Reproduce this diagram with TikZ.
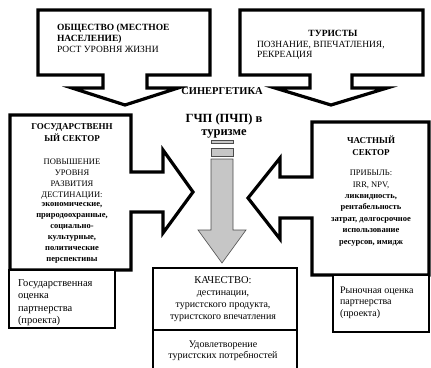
\documentclass[tikz,border=0pt]{standalone}
\usepackage{fontspec}
\setmainfont{Liberation Serif}
\newcommand\myfs[2]{\fontsize{#1}{#2}\selectfont}
\tikzset{
  callout/.style={draw=black, line width=3.2pt, fill=white, line join=miter, miter limit=10},
  plainbox/.style={draw=black, line width=2.5pt, fill=white},
  grayarrow/.style={draw=gray!60!black, line width=0.6pt, fill=gray!45},
  txt/.style={inner sep=0pt, outer sep=0pt}
}
\begin{document}
\begin{tikzpicture}[x=1pt,y=-1pt]
\useasboundingbox (0,0) rectangle (431,367);
% top callouts
\draw[callout] (38,10) -- (210,10) -- (210,75) -- (147,75) -- (147,88) -- (178,88)
  -- (125,105) -- (72,88) -- (103,88) -- (103,75) -- (38,75) -- cycle;
\draw[callout] (240,10) -- (423,10) -- (423,75) -- (352,75) -- (352,88) -- (387,88)
  -- (331,105) -- (275,88) -- (310,88) -- (310,75) -- (240,75) -- cycle;
% side callouts
\draw[callout] (10,115) -- (131,115) -- (131,172) -- (163,172) -- (163,150) -- (193,192)
  -- (163,233) -- (163,212) -- (131,212) -- (131,270) -- (10,270) -- cycle;
\draw[callout] (429,122) -- (312,122) -- (312,177) -- (280,177) -- (280,158) -- (248,198)
  -- (280,239) -- (280,218) -- (312,218) -- (312,275) -- (429,275) -- cycle;
% small boxes
\draw[plainbox] (9,270) rectangle (115,328);
\draw[plainbox, line width=2.8pt] (333,275) rectangle (429,332);
\draw[plainbox] (153,268) rectangle (297,330);
\draw[plainbox] (153,330) rectangle (297,375);
% gray arrow
\draw[grayarrow] (211,140) rectangle (233,143);
\draw[grayarrow] (211,148) rectangle (233,156);
\draw[grayarrow] (211,159) -- (233,159) -- (233,230) -- (246,230) -- (222,263)
  -- (198,230) -- (211,230) -- cycle;
% texts (anchor = baseline of the last line)
\node[txt, anchor=base west, align=left, font=\myfs{9.5}{11}] (soc) at (57,52)
  {\textbf{ОБЩЕСТВО (МЕСТНОЕ}\\\textbf{НАСЕЛЕНИЕ)}\\РОСТ УРОВНЯ ЖИЗНИ};
\node[txt, anchor=base, font=\bfseries\myfs{9.5}{11}] (tour) at (333,36) {ТУРИСТЫ};
\node[txt, anchor=base west, align=left, font=\myfs{9.5}{10.5}] (tourt) at (257,57.5)
  {ПОЗНАНИЕ, ВПЕЧАТЛЕНИЯ,\\РЕКРЕАЦИЯ};
\node[txt, anchor=base, font=\bfseries\myfs{10.5}{12}] (syn) at (222,94) {СИНЕРГЕТИКА};
\node[txt, anchor=base, align=center, font=\bfseries\myfs{12.5}{13}] (ppp) at (224,135)
  {ГЧП (ПЧП) в\\туризме};
% government
\node[txt, anchor=base, align=center, font=\bfseries\myfs{9}{12}] (govh) at (72,141)
  {ГОСУДАРСТВЕНН\\ЫЙ СЕКТОР};
\node[txt, anchor=base, align=center, font=\myfs{8.5}{11}] (govu) at (72,197)
  {ПОВЫШЕНИЕ\\УРОВНЯ\\РАЗВИТИЯ\\ДЕСТИНАЦИИ:};
\node[txt, anchor=base, align=center, font=\bfseries\myfs{8.5}{11}] (govl) at (72,261)
  {экономические,\\природоохранные,\\социально-\\культурные,\\политические\\перспективы};
% private
\node[txt, anchor=base, align=center, font=\bfseries\myfs{9}{12}] (prh) at (371,155)
  {ЧАСТНЫЙ\\СЕКТОР};
\node[txt, anchor=base, align=center, font=\myfs{8.5}{12}] (pru) at (371,187)
  {ПРИБЫЛЬ:\\IRR, NPV,};
\node[txt, anchor=base, align=center, font=\bfseries\myfs{8.5}{11.5}] (prl) at (371,244)
  {ликвидность,\\рентабельность\\затрат, долгосрочное\\использование\\ресурсов, имидж};
% small boxes text
\node[txt, anchor=base west, align=left, font=\myfs{10.5}{12.5}] (gove) at (18,323.5)
  {Государственная\\оценка\\партнерства\\(проекта)};
\node[txt, anchor=base west, align=left, font=\myfs{10}{11.5}] (pre) at (340,316)
  {Рыночная оценка\\партнерства\\(проекта)};
\node[txt, anchor=base, font=\myfs{10.5}{12}] (qh) at (223,283) {КАЧЕСТВО:};
\node[txt, anchor=base, align=center, font=\myfs{10}{12}] (ql) at (223,319)
  {дестинации,\\туристского продукта,\\туристского впечатления};
\node[txt, anchor=base, align=center, font=\myfs{10}{11.5}] (sat) at (223,358.5)
  {Удовлетворение\\туристских потребностей};
\end{tikzpicture}
\end{document}
